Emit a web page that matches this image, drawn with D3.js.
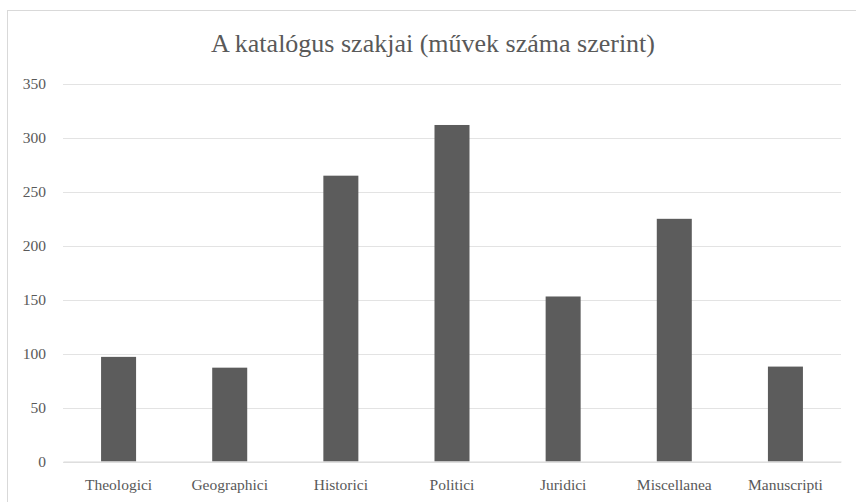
<!DOCTYPE html>
<html>
<head>
<meta charset="utf-8">
<script src="https://cdn.jsdelivr.net/npm/d3@7"></script>
<style>
  html, body { margin: 0; padding: 0; background: #fff; }
  svg { display: block; font-family: "Liberation Serif", "DejaVu Serif", serif; }
</style>
</head>
<body>
<script>
var categories = ["Theologici", "Geographici", "Historici", "Politici", "Juridici", "Miscellanea", "Manuscripti"];
var counts = [97, 87, 265, 312, 153, 225, 88];
var yTicks = [0, 50, 100, 150, 200, 250, 300, 350];
var title = "A katalógus szakjai (művek száma szerint)";

var width = 856, height = 502;
var margin = {left: 63, right: 15, top: 84, bottom: 40.5};

var svg = d3.select("body").append("svg")
    .attr("width", width).attr("height", height);

// outer chart border (cut off at right and bottom)
svg.append("rect")
    .attr("x", 7.5).attr("y", 10.5)
    .attr("width", 900).attr("height", 600)
    .attr("fill", "none").attr("stroke", "#d9d9d9");

svg.append("text")
    .attr("x", 433).attr("y", 52)
    .attr("text-anchor", "middle")
    .attr("font-size", 26)
    .attr("fill", "#595959")
    .text(title);

var x = d3.scaleBand()
    .domain(categories)
    .range([margin.left, width - margin.right])
    .paddingInner(0.685)
    .paddingOuter(0.3425);

var y = d3.scaleLinear()
    .domain([0, 350])
    .range([height - margin.bottom, margin.top]);

var chartGroup = svg.append("g");

// gridlines
chartGroup.selectAll(".grid")
    .data(yTicks)
    .enter().append("line")
    .attr("x1", margin.left).attr("x2", width - margin.right)
    .attr("y1", function(d){ return Math.round(y(d)) + 0.5; })
    .attr("y2", function(d){ return Math.round(y(d)) + 0.5; })
    .attr("stroke", "#e3e3e3")
    .attr("stroke-width", 1);

// y axis labels
var yAxis = d3.axisLeft(y).tickValues(yTicks).tickSize(0).tickPadding(0);
var yg = svg.append("g")
    .attr("transform", "translate(" + 46 + ",0)")
    .call(yAxis);
yg.select(".domain").remove();
yg.selectAll("text")
    .attr("font-family", "Liberation Serif, serif")
    .attr("font-size", 15.5)
    .attr("fill", "#595959");

// bars
chartGroup.selectAll(".bar")
    .data(counts)
    .enter().append("rect")
    .attr("x", function(d, i){ return x(categories[i]); })
    .attr("width", x.bandwidth())
    .attr("y", function(d){ return y(d); })
    .attr("height", function(d){ return y(0) - y(d); })
    .attr("fill", "#5c5c5c");

// x axis
var xAxis = d3.axisBottom(x).tickSize(0).tickPadding(0);
var xg = svg.append("g")
    .attr("transform", "translate(0," + (height - margin.bottom) + ")")
    .call(xAxis);
xg.select(".domain")
    .attr("stroke", "#d9d9d9");
xg.selectAll("text")
    .attr("font-family", "Liberation Serif, serif")
    .attr("font-size", 15.5)
    .attr("fill", "#595959")
    .attr("dy", "1.84em");
</script>
</body>
</html>
